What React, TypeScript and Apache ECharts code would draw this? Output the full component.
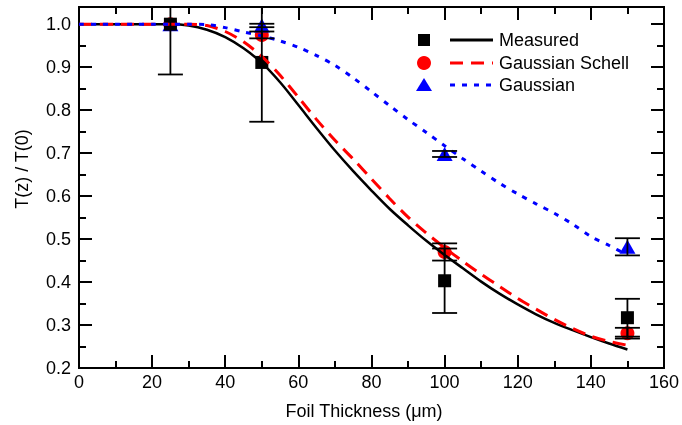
import React, { useEffect, useRef } from "react";
import * as echarts from "echarts";

// ---- data ----
const curveX = [0, 5, 10, 15, 20, 25, 30, 35, 40, 45, 50, 55, 60, 65, 70, 75, 80, 85, 90, 95, 100, 105, 110, 115, 120, 125, 130, 135, 140, 145, 150];
const measuredFit = [1, 1, 1, 1, 1, 1.0, 0.997, 0.987, 0.97, 0.944, 0.91, 0.865, 0.812, 0.758, 0.706, 0.658, 0.613, 0.57, 0.532, 0.496, 0.463, 0.432, 0.401, 0.373, 0.348, 0.325, 0.305, 0.288, 0.272, 0.257, 0.243];
const schellFit = [1, 1, 1, 1, 1, 1, 1.0, 0.997, 0.983, 0.959, 0.925, 0.881, 0.83, 0.778, 0.73, 0.686, 0.64, 0.594, 0.551, 0.514, 0.48, 0.448, 0.418, 0.39, 0.362, 0.337, 0.313, 0.292, 0.274, 0.262, 0.253];
const gaussFit = [1, 1, 1, 1, 1, 1, 1.0, 0.999, 0.992, 0.982, 0.973, 0.961, 0.946, 0.927, 0.904, 0.875, 0.843, 0.81, 0.778, 0.748, 0.717, 0.687, 0.658, 0.63, 0.605, 0.582, 0.56, 0.535, 0.506, 0.485, 0.463];

const pointX = [25, 50, 100, 150];
const measuredPts = [1.0, 0.911, 0.403, 0.317];
const measuredErr = [0.117, 0.138, 0.075, 0.044];
const schellPts = [1.0, 0.975, 0.47, 0.281];
const schellErr = [0, 0.008, 0.02, 0.0125];
const gaussPts = [1.0, 0.997, 0.698, 0.482];
const gaussErr = [0, 0.004, 0.007, 0.02];

const xTicks = { min: 0, max: 160, interval: 20 };
const yTicks = { min: 0.2, max: 1.04, interval: 0.1, minor: 0.05 };

const FONT = "'Liberation Sans', Arial, sans-serif";

const pairs = (xs: number[], ys: number[]) => xs.map((x, i) => [x, ys[i]]);
const errRows = (xs: number[], ys: number[], es: number[]) =>
  xs.map((x, i) => [x, ys[i] - es[i], ys[i] + es[i]]).filter((r) => r[2] - r[1] > 0);

export default function App() {
  const ref = useRef<HTMLDivElement>(null);
  useEffect(() => {
    if (!ref.current) return;
    const chart = echarts.init(ref.current, null, { renderer: "svg" });
    const black = "#000";
    const tickStyle = { color: black, width: 2 };
    const xBase = (pos: string, labels: boolean) => ({
      type: "value",
      position: pos,
      min: xTicks.min,
      max: xTicks.max,
      interval: xTicks.interval,
      axisLine: { show: true, onZero: false, lineStyle: { color: black, width: 2 } },
      axisTick: { show: true, inside: true, length: 13, lineStyle: tickStyle },
      minorTick: { show: true, splitNumber: 2, length: 7, lineStyle: tickStyle },
      splitLine: { show: false },
      axisLabel: { show: labels, color: black, fontSize: 18, fontFamily: FONT, margin: 5 },
    });
    const yBase = (pos: string, major: boolean, labels: boolean) => ({
      type: "value",
      position: pos,
      min: yTicks.min,
      max: yTicks.max,
      interval: major ? yTicks.interval : yTicks.minor,
      axisLine: { show: true, onZero: false, lineStyle: { color: black, width: 2 } },
      axisTick: { show: true, inside: true, length: major ? 13 : 7, lineStyle: tickStyle },
      splitLine: { show: false },
      axisLabel: {
        show: labels,
        color: black,
        fontSize: 18,
        fontFamily: FONT,
        margin: 8,
        showMaxLabel: false,
        formatter: (v: number) => (v > 1.001 ? "" : v.toFixed(1)),
      },
    });

    const errSeries = (rows: number[][], name: string) => ({
      type: "custom",
      name,
      z: 10,
      data: rows,
      encode: { x: 0, y: [1, 2] },
      renderItem: (params: any, api: any) => {
        const x = api.value(0);
        const lo = api.value(1);
        const hi = api.value(2);
        const loC = Math.max(lo, yTicks.min);
        const hiC = Math.min(hi, yTicks.max);
        const p1 = api.coord([x, loC]);
        const p2 = api.coord([x, hiC]);
        const hw = 12.5;
        const st = { stroke: black, lineWidth: 1.8 };
        const children: any[] = [
          { type: "line", shape: { x1: p1[0], y1: p1[1], x2: p2[0], y2: p2[1] }, style: st },
        ];
        if (lo >= yTicks.min)
          children.push({ type: "line", shape: { x1: p1[0] - hw, y1: p1[1], x2: p1[0] + hw, y2: p1[1] }, style: st });
        if (hi <= yTicks.max)
          children.push({ type: "line", shape: { x1: p2[0] - hw, y1: p2[1], x2: p2[0] + hw, y2: p2[1] }, style: st });
        return { type: "group", children };
      },
    });

    const legendRows = [
      { y: 40, text: "Measured", color: black, dash: "solid" as any, sym: "square" },
      { y: 63, text: "Gaussian Schell", color: "#ff0000", dash: [13, 8], sym: "circle" },
      { y: 85, text: "Gaussian", color: "#0000ff", dash: [5, 7], sym: "triangle" },
    ];
    const legendEls: any[] = [];
    legendRows.forEach((r) => {
      if (r.sym === "square")
        legendEls.push({ type: "rect", shape: { x: 418, y: r.y - 6, width: 12, height: 12 }, style: { fill: r.color } });
      else if (r.sym === "circle")
        legendEls.push({ type: "circle", shape: { cx: 424, cy: r.y, r: 7 }, style: { fill: r.color } });
      else
        legendEls.push({
          type: "polygon",
          shape: { points: [[424, r.y - 7], [416, r.y + 6], [432, r.y + 6]] },
          style: { fill: r.color },
        });
      legendEls.push({
        type: "line",
        shape: { x1: 450, y1: r.y, x2: 493, y2: r.y },
        style: { stroke: r.color, lineWidth: 3, lineDash: r.dash === "solid" ? null : r.dash },
      });
      legendEls.push({
        type: "text",
        x: 499,
        y: r.y,
        style: { text: r.text, fill: black, font: `18px ${FONT}`, verticalAlign: "middle", align: "left" },
      });
    });

    const sc = (name: string, ys: number[], symbol: string, size: any, color: string, z: number) => ({
      type: "scatter",
      name,
      data: pairs(pointX, ys),
      symbol,
      symbolSize: size,
      itemStyle: { color, opacity: 1 },
      emphasis: { disabled: true },
      z,
    });

    chart.setOption({
      animation: false,
      grid: { left: 79, right: 16, top: 7, bottom: 57, containLabel: false },
      xAxis: [xBase("bottom", true), xBase("top", false)],
      yAxis: [
        yBase("left", true, true),
        yBase("left", false, false),
        yBase("right", true, false),
        yBase("right", false, false),
      ],
      series: [
        sc("Gaussian Schell pts", schellPts, "circle", 14, "#ff0000", 3),
        sc("Gaussian pts", gaussPts, "triangle", [16, 14], "#0000ff", 3),
        sc("Measured pts", measuredPts, "rect", 13, black, 4),
        { type: "line", name: "Measured", data: pairs(curveX, measuredFit), showSymbol: false, smooth: 0.3, lineStyle: { color: black, width: 2.5 }, z: 5 },
        { type: "line", name: "Gaussian Schell", data: pairs(curveX, schellFit), showSymbol: false, smooth: 0.3, lineStyle: { color: "#ff0000", width: 3, type: [13, 8] }, z: 5 },
        { type: "line", name: "Gaussian", data: pairs(curveX, gaussFit), showSymbol: false, smooth: 0.3, lineStyle: { color: "#0000ff", width: 3, type: [5, 7] }, z: 5 },
        errSeries(errRows(pointX, measuredPts, measuredErr), "Measured err"),
        errSeries(errRows(pointX, schellPts, schellErr), "Schell err"),
        errSeries(errRows(pointX, gaussPts, gaussErr), "Gaussian err"),
      ],
      graphic: [
        ...legendEls,
        {
          type: "text",
          x: 364,
          y: 411,
          style: { text: "Foil Thickness (μm)", fill: black, font: `18px ${FONT}`, align: "center", verticalAlign: "middle" },
        },
        {
          type: "text",
          x: 22,
          y: 169,
          rotation: Math.PI / 2,
          style: { text: "T(z) / T(0)", fill: black, font: `18px ${FONT}`, align: "center", verticalAlign: "middle" },
        },
      ],
    });
    return () => chart.dispose();
  }, []);
  return <div ref={ref} style={{ position: "fixed", left: 0, top: 0, width: 682, height: 425 }} />;
}
